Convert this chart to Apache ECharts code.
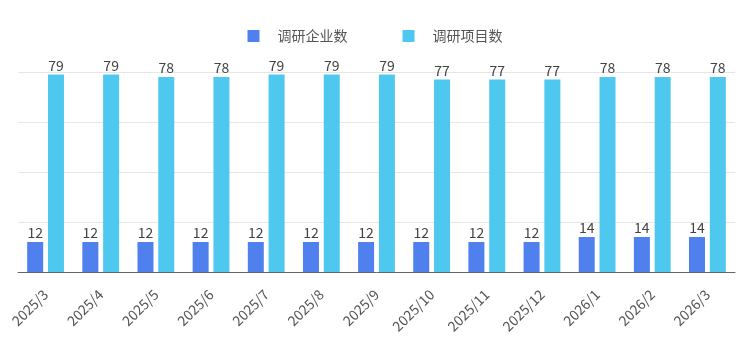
<!DOCTYPE html>
<html>
<head>
<meta charset="utf-8">
<script src="https://cdn.jsdelivr.net/npm/echarts@6/dist/echarts.min.js"></script>
<style>
  html, body { margin: 0; padding: 0; background: #fff; }
  #chart { width: 750px; height: 351px; }
</style>
</head>
<body>
<div id="chart"></div>
<script>
const months = ['2025/3', '2025/4', '2025/5', '2025/6', '2025/7', '2025/8', '2025/9',
  '2025/10', '2025/11', '2025/12', '2026/1', '2026/2', '2026/3']
const companies = [12, 12, 12, 12, 12, 12, 12, 12, 12, 12, 14, 14, 14]
const projects = [79, 79, 78, 78, 79, 79, 79, 77, 77, 77, 78, 78, 78]
const seriesNames = ['调研企业数', '调研项目数']

const font = '"Noto Sans CJK SC", "Noto Sans", sans-serif'
const chart = echarts.init(document.getElementById('chart'))

const label = {
  show: true,
  position: 'top',
  distance: 2,
  color: '#444',
  fontSize: 14,
  fontFamily: font
}

chart.setOption({
  animation: false,
  legend: {
    top: 24,
    left: 'center',
    icon: 'rect',
    itemWidth: 12,
    itemHeight: 12,
    itemGap: 55,
    textStyle: { color: '#555', fontSize: 14, fontFamily: font, padding: [0, 0, 0, 13] },
    data: seriesNames
  },
  grid: { left: 18, right: 15, top: 72, bottom: 79, containLabel: false },
  xAxis: {
    type: 'category',
    data: months,
    axisTick: { show: false },
    axisLine: { lineStyle: { color: '#666' } },
    axisLabel: {
      rotate: 45,
      interval: 0,
      margin: 20,
      padding: [0, 0, 0, 0],
      color: '#555',
      fontSize: 14,
      fontFamily: font
    }
  },
  yAxis: {
    type: 'value',
    min: 0,
    max: 80,
    interval: 20,
    axisLabel: { show: false },
    axisLine: { show: false },
    axisTick: { show: false },
    splitLine: { lineStyle: { color: '#e6e6e6' } }
  },
  series: [
    {
      name: seriesNames[0],
      type: 'bar',
      data: companies,
      barWidth: 16,
      barGap: '30%',
      itemStyle: { color: '#4f80ee' },
      label: label
    },
    {
      name: seriesNames[1],
      type: 'bar',
      data: projects,
      barWidth: 16,
      itemStyle: { color: '#4ec8ef' },
      label: label
    }
  ]
})
</script>
</body>
</html>
